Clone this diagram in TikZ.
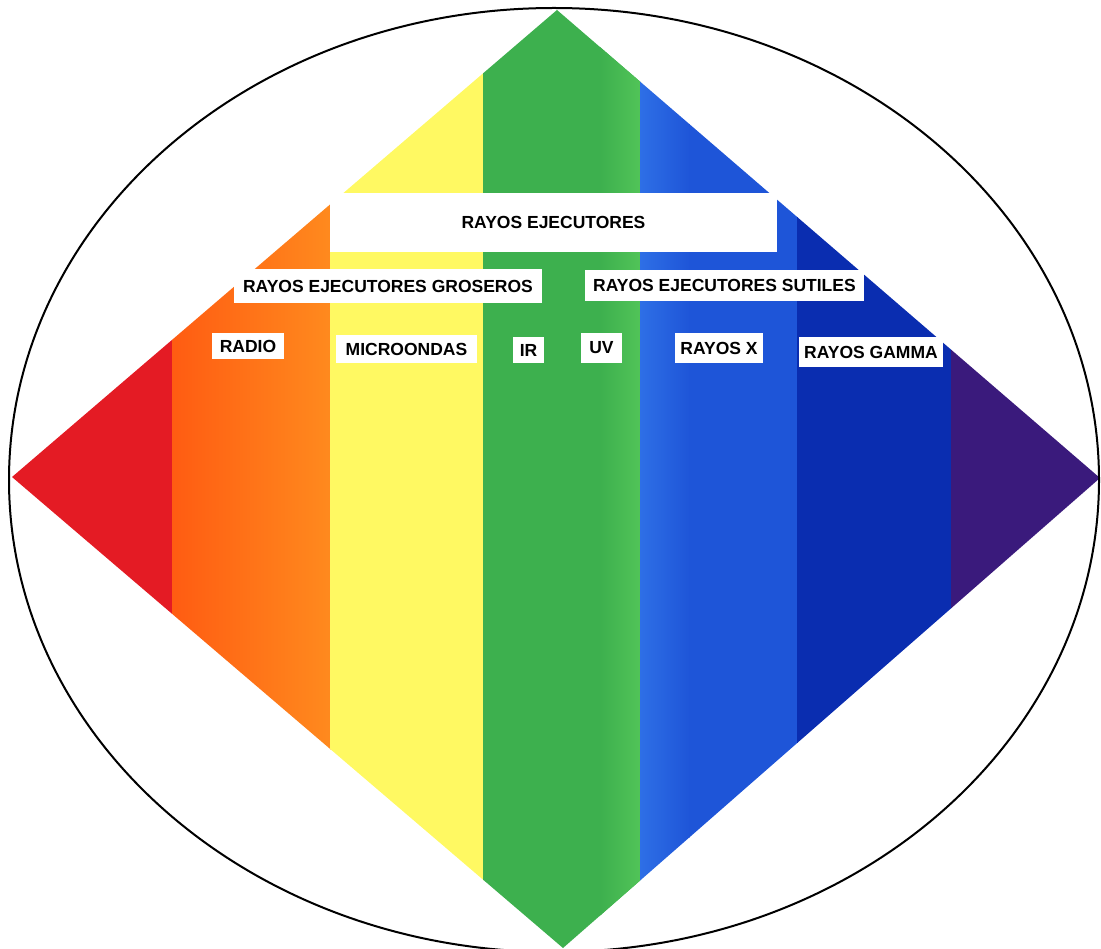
\documentclass[tikz,border=0pt]{standalone}
\usepackage{fontspec}
\setmainfont{Liberation Sans}
\definecolor{rojo}{HTML}{E41B24}
\definecolor{naranjaA}{HTML}{FF5C12}
\definecolor{naranjaB}{HTML}{FF8A1E}
\definecolor{amarillo}{HTML}{FFF962}
\definecolor{verde}{HTML}{3DB04E}
\definecolor{verdeclaro}{HTML}{52C458}
\definecolor{azulA}{HTML}{2E6FE6}
\definecolor{azulB}{HTML}{1E55D8}
\definecolor{azuloscuro}{HTML}{0A2DB0}
\definecolor{morado}{HTML}{3A1A7C}
\begin{document}
\begin{tikzpicture}[x=1pt,y=-1pt,font=\fontsize{17.5}{19}\selectfont\bfseries,
  etiq/.style={fill=white,inner sep=0pt,text=black}]
\useasboundingbox (0,0) rectangle (1101,949);
\begin{scope}
\clip (12,477) -- (557,10) -- (1100,478) -- (563,948) -- cycle;
\fill[rojo] (0,0) rectangle (172,949);
\shade[left color=naranjaA,right color=naranjaB] (172,0) rectangle (331,949);
\fill[amarillo] (330,0) rectangle (484,949);
\fill[verde] (483,0) rectangle (641,949);
\shade[left color=verde,right color=verdeclaro] (600,0) rectangle (641,949);
\shade[left color=azulA,right color=azulB] (640,0) rectangle (690,949);
\fill[azulB] (689,0) rectangle (798,949);
\fill[azuloscuro] (797,0) rectangle (952,949);
\fill[morado] (951,0) rectangle (1101,949);
\end{scope}
\draw[line width=2pt] (554,480) ellipse (545 and 472);
% etiquetas
\node[etiq,minimum width=447,minimum height=59] (rayos) at (553.5,222.5) {RAYOS EJECUTORES};
\node[etiq,minimum width=308,minimum height=34] (groseros) at (388,286) {RAYOS EJECUTORES GROSEROS};
\node[etiq,minimum width=279,minimum height=31] (sutiles) at (724.5,285.5) {RAYOS EJECUTORES SUTILES};
\foreach \n/\x/\y/\w/\h/\t in {radio/248/346/72/26/RADIO, micro/406.5/349/141/28/MICROONDAS,
  ir/528.5/350/31/26/IR, uv/601.5/348/41/30/UV, rx/719/348/88/30/RAYOS X, gamma/871/352/144/30/RAYOS GAMMA}
  \node[etiq,minimum width=\w,minimum height=\h] (\n) at (\x,\y) {\t};
\end{tikzpicture}
\end{document}
